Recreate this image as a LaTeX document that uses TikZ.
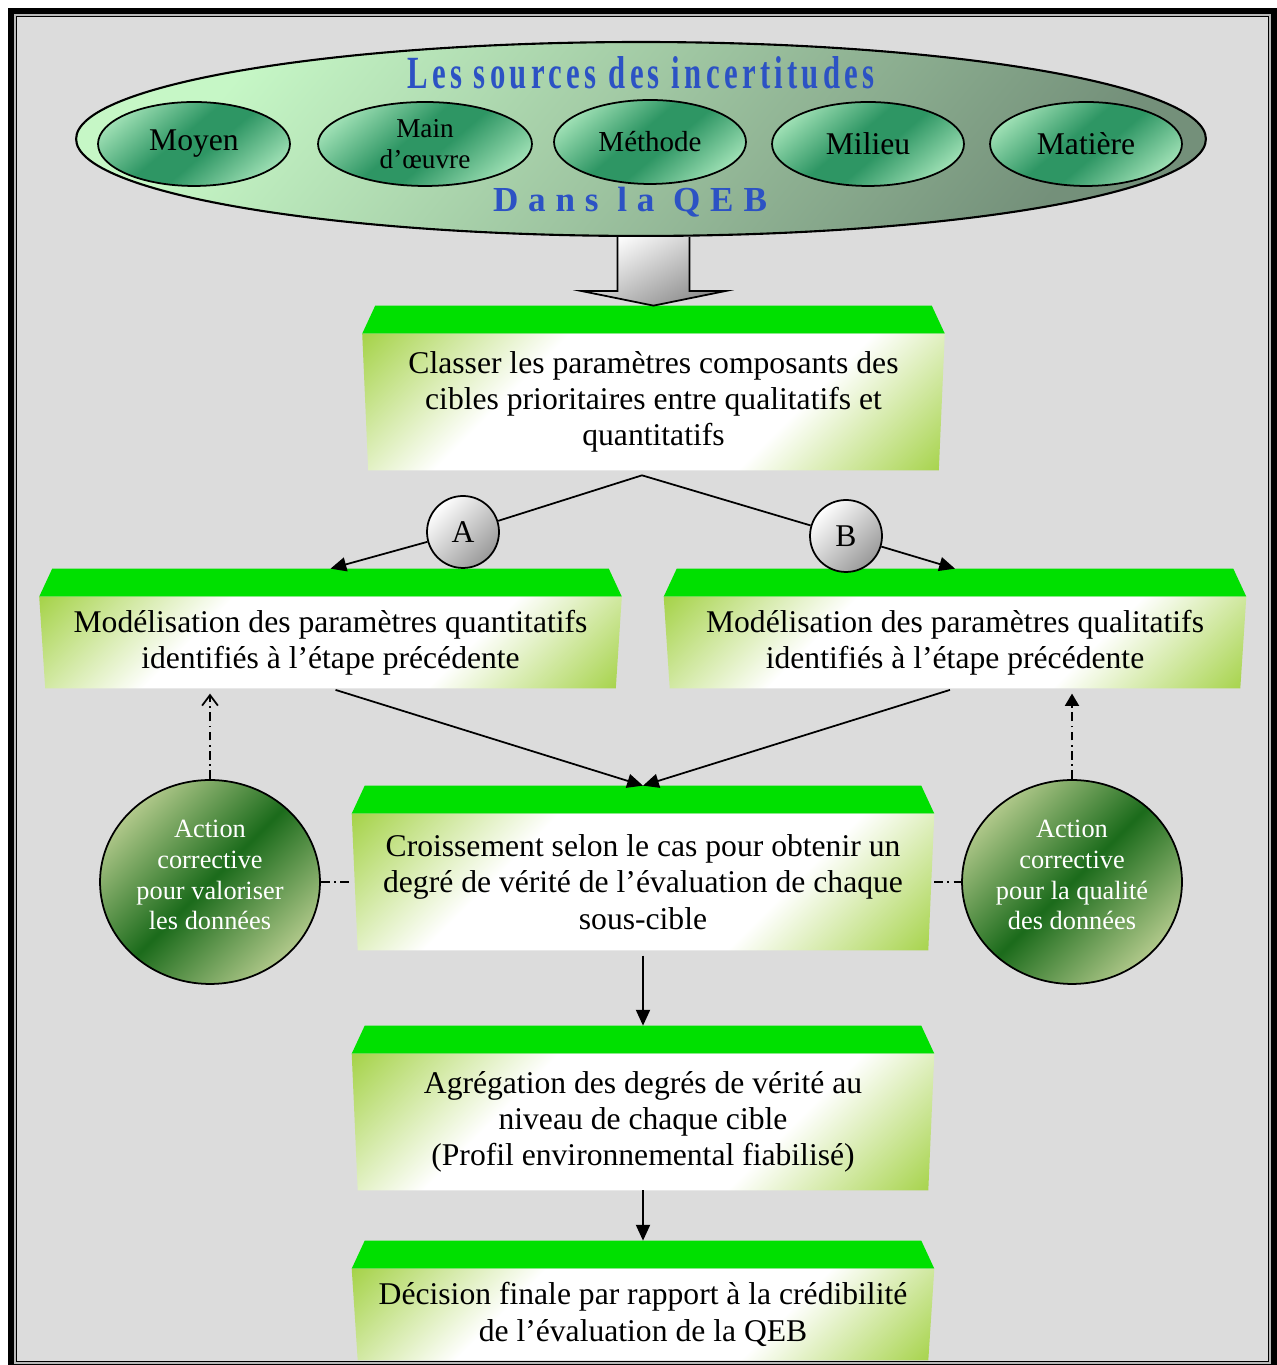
\documentclass[tikz,border=0pt]{standalone}
\usepackage{fontspec}
\usepackage{graphicx}
\setmainfont{Liberation Serif}
\newfontfamily\titrefont{Liberation Serif}[LetterSpace=14]
\newfontfamily\qebfont{Liberation Serif}[LetterSpace=28]
\usetikzlibrary{arrows.meta,positioning,calc,shapes.geometric,backgrounds}
\definecolor{fondgris}{HTML}{DCDCDC}
\definecolor{vertvif}{HTML}{00E000}
\definecolor{vertjaune}{HTML}{9ACD32}
\definecolor{vertclair}{HTML}{C6F7C6}
\definecolor{vertsombre}{HTML}{74907A}
\definecolor{vertmoyen}{HTML}{2E9664}
\definecolor{vertpale}{HTML}{B4EEC4}
\definecolor{vertforet}{HTML}{1B6B1B}
\definecolor{vertolive}{HTML}{B0C88A}
\definecolor{bleutitre}{HTML}{2C52C4}
\pgfdeclareverticalshading{degrade}{100bp}{color(0bp)=(vertjaune); color(12bp)=(vertjaune);
  color(35bp)=(white); color(65bp)=(white); color(88bp)=(vertjaune); color(100bp)=(vertjaune)}
\pgfdeclareverticalshading{ovale}{100bp}{color(0bp)=(vertpale); color(20bp)=(vertpale);
  color(45bp)=(vertmoyen); color(55bp)=(vertmoyen); color(80bp)=(vertpale); color(100bp)=(vertpale)}

\begin{document}
\begin{tikzpicture}[x=0.02cm, y=0.02cm,
  source/.style={ellipse, draw, line width=1pt, minimum width=3.84cm, minimum height=1.68cm,
                 inner sep=0pt, align=center, font=\fontsize{18}{20}\selectfont,
                 shading=ovale, shading angle=40},
  etape/.style={minimum width=11.64cm, minimum height=2.72cm, inner sep=0pt, align=center,
                font=\fontsize{18}{20.7}\selectfont},
  etapebasse/.style={etape, minimum height=1.82cm},
  facade/.style={shading=degrade, shading angle=45},
  lettre/.style={circle, draw, line width=1pt, minimum size=1.44cm, inner sep=0pt,
                 top color=white, bottom color=gray!80, shading angle=45, font=\fontsize{18}{20}\selectfont},
  action/.style={ellipse, draw, line width=1pt, minimum width=4.4cm, minimum height=4.08cm,
                 inner sep=0pt, align=center, text=white, font=\fontsize{15}{17.5}\selectfont,
                 top color=vertolive, bottom color=vertolive, middle color=vertforet, shading angle=45},
  bloc/.style={line width=1pt, draw=black, top color=white, bottom color=gray!90, shading angle=30},
  fleche/.style={-{Triangle[length=9pt,width=8pt]}, line width=1pt},
  mixte/.style={line width=1pt, dash pattern=on 5pt off 2.5pt on 1pt off 2.5pt}]

  \useasboundingbox (0,0) rectangle (1276,1365);

  % les sources
  \node[ellipse, draw, line width=1.2pt, minimum width=22.6cm, minimum height=3.88cm,
        top color=vertclair, bottom color=vertsombre, shading angle=50] (sources) at (641,1226) {};
  \node[text=bleutitre] (titre) at (641,1292)
    {\scalebox{1}[1.5]{\fontsize{17.5}{18}\titrefont\bfseries Les sources des incertitudes}};
  \node[text=bleutitre] (qeb) at (630,1163) {\fontsize{20}{20}\qebfont\bfseries Dans la QEB};
  \node[source, shade] (moyen) at (194,1221) {Moyen};
  \node[source, shade, minimum width=4.28cm, font=\fontsize{15.5}{18}\selectfont] (main) at (425,1221) {Main\\d’œuvre};
  \node[source, shade, font=\fontsize{16.5}{18}\selectfont] (methode) at (650,1223) {Méthode};
  \node[source, shade] (milieu) at (868,1221) {Milieu};
  \node[source, shade] (matiere) at (1086,1221) {Matière};

  % les etapes
  \node[etape] (cls) at (653.5,963) {Classer les paramètres composants des\\cibles prioritaires entre qualitatifs et\\quantitatifs};
  \node[etapebasse] (quan) at (330.5,722.5) {Modélisation des paramètres quantitatifs\\identifiés à l’étape précédente};
  \node[etapebasse] (qual) at (955,722.5) {Modélisation des paramètres qualitatifs\\identifiés à l’étape précédente};
  \node[etape] (crois) at (643,483) {Croissement selon le cas pour obtenir un\\degré de vérité de l’évaluation de chaque\\sous-cible};
  \node[etape] (agr) at (643,243) {Agrégation des degrés de vérité au\\niveau de chaque cible\\(Profil environnemental fiabilisé)};
  \node[etapebasse] (dec) at (643,50.5) {Décision finale par rapport à la crédibilité\\de l’évaluation de la QEB};

  \node[lettre] (cA) at (463,833) {A};
  \node[lettre] (cB) at (846,829) {B};
  \node[action] (gauche) at (210,483) {Action\\corrective\\pour valoriser\\les données\\[-9.5pt]};
  \node[action] (droite) at (1072,483) {Action\\corrective\\pour la qualité\\des données\\[-9.5pt]};

  \begin{scope}[on background layer]
    \fill[fondgris] (11,-2) rectangle (1274,1354);
    \draw[line width=3.4pt] (11,-2) rectangle (1274,1354);
    \draw[line width=1.1pt, gray!55] (15,2) rectangle (1270,1350);
    \draw[line width=0.85pt] (16.75,3.75) rectangle (1268.25,1348.25);
    \foreach \n in {cls,quan,qual,crois,agr,dec}{
      \coordinate (\n-top) at ($(\n.north)+(0,28)$);
      \fill[vertvif] (\n.north west) -- ($(\n.north west)+(13,28)$) -- ($(\n.north east)+(-13,28)$) -- (\n.north east) -- cycle;
      \shade[facade] (\n.north west) -- (\n.north east) -- ($(\n.south east)+(-6,0)$) -- ($(\n.south west)+(6,0)$) -- cycle;
    }
  \end{scope}

  \coordinate (haut) at (sources.south -| cls.north);
  \draw[bloc] ($(haut)+(-36,0)$) -- ($(haut)+(-36,-54)$) -- ($(haut)+(-72,-54)$) -- (cls-top)
    -- ($(haut)+(72,-54)$) -- ($(haut)+(36,-54)$) -- ($(haut)+(36,0)$);

  \coordinate (fourche) at ($(cls.south)+(-11.5,-5)$);
  \draw[line width=1pt] (fourche) -- (cA);
  \draw[fleche] (cA) -- (quan-top);
  \draw[line width=1pt] (fourche) -- (cB);
  \draw[fleche] (cB) -- (qual-top);
  \draw[fleche, shorten <=3pt] (quan.south) -- (crois-top);
  \draw[fleche, shorten <=3pt] (qual.south) -- (crois-top);
  \draw[fleche, shorten <=3pt] (crois.south) -- (agr-top);
  \draw[fleche] (agr.south) -- (dec-top);

  \draw[mixte, -{Straight Barb[length=6pt,width=9pt]}, shorten >=3pt] (gauche.north) -- (gauche.north |- quan.south);
  \draw[mixte, -{Triangle[length=7pt,width=8pt]}, shorten >=3pt] (droite.north) -- (droite.north |- qual.south);
  \draw[mixte] (gauche) -- (crois.west);
  \draw[mixte] (crois.east) -- (droite);
\end{tikzpicture}
\end{document}
